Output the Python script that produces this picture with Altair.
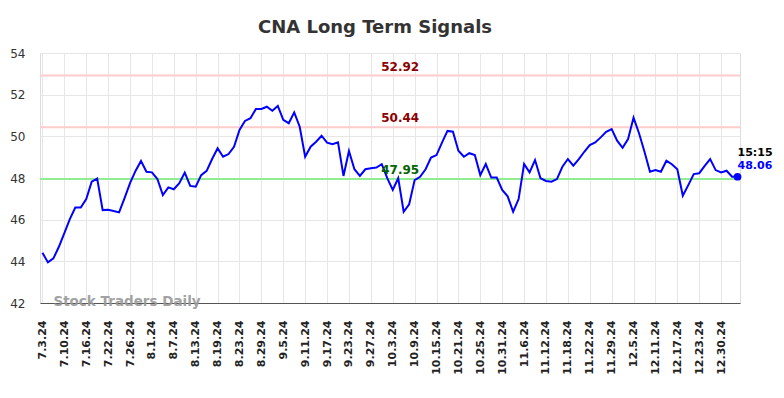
import altair as alt
import pandas as pd

dates = [
    "7.3.24", "7.5.24", "7.8.24", "7.9.24", "7.10.24", "7.11.24", "7.12.24", "7.15.24", "7.16.24", "7.17.24",
    "7.18.24", "7.19.24", "7.22.24", "7.23.24", "7.24.24", "7.25.24", "7.26.24", "7.29.24", "7.30.24", "7.31.24",
    "8.1.24", "8.2.24", "8.5.24", "8.6.24", "8.7.24", "8.8.24", "8.9.24", "8.12.24", "8.13.24", "8.14.24",
    "8.15.24", "8.16.24", "8.19.24", "8.20.24", "8.21.24", "8.22.24", "8.23.24", "8.26.24", "8.27.24", "8.28.24",
    "8.29.24", "8.30.24", "9.3.24", "9.4.24", "9.5.24", "9.6.24", "9.9.24", "9.10.24", "9.11.24", "9.12.24",
    "9.13.24", "9.16.24", "9.17.24", "9.18.24", "9.19.24", "9.20.24", "9.23.24", "9.24.24", "9.25.24", "9.26.24",
    "9.27.24", "9.30.24", "10.1.24", "10.2.24", "10.3.24", "10.4.24", "10.7.24", "10.8.24", "10.9.24", "10.10.24",
    "10.11.24", "10.14.24", "10.15.24", "10.16.24", "10.17.24", "10.18.24", "10.21.24", "10.22.24", "10.23.24", "10.24.24",
    "10.25.24", "10.28.24", "10.29.24", "10.30.24", "10.31.24", "11.1.24", "11.4.24", "11.5.24", "11.6.24", "11.7.24",
    "11.8.24", "11.11.24", "11.12.24", "11.13.24", "11.14.24", "11.15.24", "11.18.24", "11.19.24", "11.20.24", "11.21.24",
    "11.22.24", "11.25.24", "11.26.24", "11.27.24", "11.29.24", "12.2.24", "12.3.24", "12.4.24", "12.5.24", "12.6.24",
    "12.9.24", "12.10.24", "12.11.24", "12.12.24", "12.13.24", "12.16.24", "12.17.24", "12.18.24", "12.19.24", "12.20.24",
    "12.23.24", "12.24.24", "12.26.24", "12.27.24", "12.30.24", "12.31.24", "1.2.25", "1.3.25",
]

values = [
    44.41, 43.95, 44.14, 44.70, 45.35, 46.03, 46.58, 46.58, 46.99, 47.82,
    47.97, 46.46, 46.48, 46.42, 46.35, 47.03, 47.75, 48.34, 48.82, 48.30,
    48.27, 47.95, 47.18, 47.55, 47.46, 47.75, 48.26, 47.62, 47.58, 48.14,
    48.34, 48.91, 49.43, 49.02, 49.15, 49.50, 50.31, 50.74, 50.87, 51.31,
    51.31, 51.42, 51.23, 51.46, 50.79, 50.63, 51.15, 50.46, 49.02, 49.50,
    49.74, 50.03, 49.70, 49.62, 49.71, 48.10, 49.30, 48.42, 48.10, 48.42,
    48.47, 48.50, 48.66, 47.99, 47.43, 47.99, 46.38, 46.74, 47.90, 48.06,
    48.42, 48.98, 49.10, 49.70, 50.26, 50.22, 49.31, 49.02, 49.19, 49.10,
    48.14, 48.67, 48.02, 48.02, 47.43, 47.12, 46.38, 46.99, 48.67, 48.27,
    48.86, 47.99, 47.86, 47.82, 47.95, 48.54, 48.91, 48.59, 48.91, 49.26,
    49.58, 49.71, 49.95, 50.22, 50.35, 49.79, 49.45, 49.87, 50.90, 50.15,
    49.26, 48.30, 48.38, 48.30, 48.83, 48.66, 48.42, 47.15, 47.66, 48.19,
    48.23, 48.58, 48.91, 48.38, 48.27, 48.35, 48.06, 48.06,
]

tick_labels = [
    "7.3.24", "7.10.24", "7.16.24", "7.22.24", "7.26.24", "8.1.24", "8.7.24", "8.13.24",
    "8.19.24", "8.23.24", "8.29.24", "9.5.24", "9.11.24", "9.17.24", "9.23.24", "9.27.24",
    "10.3.24", "10.9.24", "10.15.24", "10.21.24", "10.25.24", "10.31.24", "11.6.24", "11.12.24",
    "11.18.24", "11.22.24", "11.29.24", "12.5.24", "12.11.24", "12.17.24", "12.23.24", "12.30.24",
]

y_ticks = [42, 44, 46, 48, 50, 52, 54]

level_values = [52.92, 50.44, 47.95]
level_texts = ["52.92", "50.44", "47.95"]
level_line_colors = ["#ffcccc", "#ffcccc", "#90ee90"]
level_text_colors = ["#8b0000", "#8b0000", "#006400"]
level_label_date = "10.4.24"

last_time = "15:15"
last_value = 48.06
watermark = "Stock Traders Daily"
title = "CNA Long Term Signals"

FONT = "DejaVu Sans"

price_df = pd.DataFrame({"date": dates, "value": values})
levels_df = pd.DataFrame({
    "value": level_values,
    "label": level_texts,
    "line_color": level_line_colors,
    "text_color": level_text_colors,
    "date": [level_label_date] * len(level_values),
})
last_df = pd.DataFrame({"date": [dates[-1]], "value": [last_value],
                        "time": [last_time], "label": [f"{last_value:.2f}"]})
wm_df = pd.DataFrame({"date": [dates[2]], "value": [y_ticks[0]], "label": [watermark]})

x_scale = alt.Scale(type="point", domain=dates, padding=0.45)
y_scale = alt.Scale(domain=[42, 54], nice=False, zero=False)

x_enc = alt.X(
    "date:O", scale=x_scale, title=None,
    axis=alt.Axis(
        values=tick_labels, labelAngle=-90, labelFont=FONT, labelFontSize=11,
        labelFontWeight="bold", labelColor="#222222", labelPadding=17, ticks=False,
        domainColor="#555555", domainWidth=1.2, gridColor="#e6e6e6", grid=True,
        labelOverlap=False,
    ),
)
y_enc = alt.Y(
    "value:Q", scale=y_scale, title=None,
    axis=alt.Axis(
        values=y_ticks, ticks=False, domain=False, labelPadding=15, labelFont=FONT,
        labelFontSize=12, labelColor="#333333", gridColor="#e6e6e6", grid=True,
    ),
)

price_line = alt.Chart(price_df).mark_line(color="#0000ff", strokeWidth=2).encode(x=x_enc, y=y_enc)

rules = alt.Chart(levels_df).mark_rule(strokeWidth=2).encode(
    y=alt.Y("value:Q", scale=y_scale),
    color=alt.Color("line_color:N", scale=None),
)

level_labels = alt.Chart(levels_df).mark_text(
    font=FONT, fontSize=12, fontWeight="bold", baseline="bottom", align="center", dx=2, dy=-2
).encode(
    x=alt.X("date:O", scale=x_scale),
    y=alt.Y("value:Q", scale=y_scale),
    text="label:N",
    color=alt.Color("text_color:N", scale=None),
)

last_dot = alt.Chart(last_df).mark_circle(color="#0000ff", size=60, opacity=1).encode(
    x=alt.X("date:O", scale=x_scale), y=alt.Y("value:Q", scale=y_scale)
)
last_time_text = alt.Chart(last_df).mark_text(
    font=FONT, fontSize=11, fontWeight="bold", align="left", baseline="middle",
    dx=0, dy=-24, color="#000000"
).encode(x=alt.X("date:O", scale=x_scale), y=alt.Y("value:Q", scale=y_scale), text="time:N")
last_val_text = alt.Chart(last_df).mark_text(
    font=FONT, fontSize=11, fontWeight="bold", align="left", baseline="middle",
    dx=0, dy=-11, color="#0000ff"
).encode(x=alt.X("date:O", scale=x_scale), y=alt.Y("value:Q", scale=y_scale), text="label:N")

wm_text = alt.Chart(wm_df).mark_text(
    font=FONT, fontSize=13.5, fontWeight="bold", align="left", baseline="middle",
    dy=-1, color="#999999", opacity=0.9
).encode(x=alt.X("date:O", scale=x_scale), y=alt.Y("value:Q", scale=y_scale), text="label:N")

chart = alt.layer(
    rules, price_line, level_labels, last_dot, last_time_text, last_val_text, wm_text
).properties(
    width=700, height=250,
    title=alt.TitleParams(title, font=FONT, fontSize=18, fontWeight="bold",
                          color="#333333", anchor="middle", dx=-15, offset=10),
    autosize=alt.AutoSizeParams(type="none"),
    padding={"left": 32, "top": 45, "right": 36, "bottom": 87},
).configure_view(stroke=None).configure(font=FONT)

chart.save("out.html", embed_options={"renderer": "svg", "actions": False})
